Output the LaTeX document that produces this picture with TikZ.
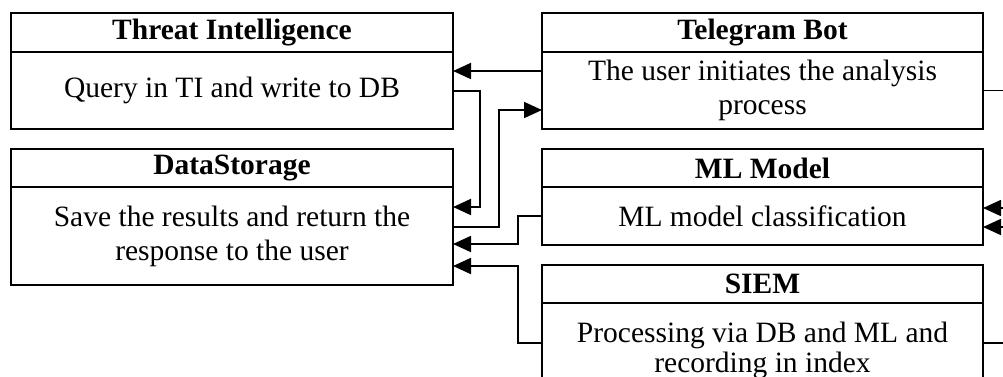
\documentclass[tikz,border=0pt]{standalone}
\usepackage{fontspec}
\setmainfont{Liberation Serif}
\usetikzlibrary{arrows.meta}

\tikzset{
  every picture/.style={x=1pt,y=-1pt},
  cell/.style={draw, line width=1.8pt, rectangle, anchor=north west,
    inner sep=0pt, outer sep=0pt, align=center,
    font=\fontsize{29.5}{34}\selectfont},
  head/.style={cell, font=\fontsize{29.5}{34}\selectfont\bfseries,
    minimum height=39pt},
  lbox/.style={minimum width=442pt},
  rbox/.style={minimum width=441pt},
  link/.style={line width=1.8pt},
  arr/.style={link, -{Triangle[length=18pt,width=16pt]}},
}

\begin{document}
\begin{tikzpicture}
\useasboundingbox (0,0) rectangle (1003,376);

% left column
\node[head, lbox] (tiH) at (11,13) {Threat Intelligence};
\node[cell, lbox, minimum height=77pt] (tiB) at (11,52) {Query in TI and write to DB};
\node[head, lbox, minimum height=38pt] (dsH) at (11,149) {DataStorage};
\node[cell, lbox, minimum height=98pt] (dsB) at (11,187)
  {Save the results and return the\\response to the user};

% right column
\node[head, rbox] (tgH) at (542,13) {Telegram Bot};
\node[cell, rbox, minimum height=77pt] (tgB) at (542,52)
  {The user initiates the analysis\\process};
\node[head, rbox, minimum height=38pt] (mlH) at (542,149) {ML Model};
\node[cell, rbox, minimum height=58pt] (mlB) at (542,187) {ML model classification};
\node[head, rbox, minimum height=38pt] (siH) at (542,265) {SIEM};
\node[cell, rbox, minimum height=94pt, font=\fontsize{29.5}{30}\selectfont] (siB) at (542,303)
  {Processing via DB and ML and\\recording in index};

% free ends leaving the right edge
\coordinate (tgOut) at (1010,90.5);
\coordinate (mlInA) at (1010,208);
\coordinate (mlInB) at (1010,227);
\coordinate (siOut) at (1010,343);

% connectors
\draw[arr] ([yshift=-19pt]tgB.north west) -- ([yshift=-19pt]tiB.north east);
\draw[arr] ([yshift=-39pt]tiB.north east) -- ++(27,0) |- ([yshift=-20pt]dsB.north east);
\draw[arr] ([yshift=-40pt]dsB.north east) -- ++(46,0) |- ([yshift=-58pt]tgB.north west);
\draw[arr] (mlB.west) -- ++(-24,0) |- ([yshift=-57pt]dsB.north east);
\draw[arr] ([yshift=-40pt]siB.north west) -- ++(-24,0) |- ([yshift=-79pt]dsB.north east);

\draw[link] (tgB.east) -- (tgOut);
\draw[arr] (mlInA) -- ([yshift=-21pt]mlB.north east);
\draw[arr] (mlInB) -- ([yshift=-40pt]mlB.north east);
\draw[link] ([yshift=-40pt]siB.north east) -- (siOut);
\end{tikzpicture}
\end{document}
